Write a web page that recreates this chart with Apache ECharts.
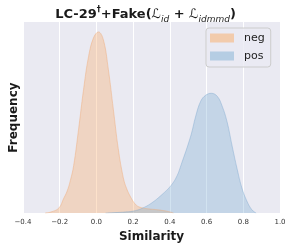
<!DOCTYPE html>
<html>
<head>
<meta charset="utf-8">
<script src="https://cdn.jsdelivr.net/npm/echarts@6/dist/echarts.min.js"></script>
<style>html,body{margin:0;padding:0;background:#fff}#c{width:291px;height:248px}</style>
</head>
<body>
<div id="c"></div>
<script>
// Data (KDE curves, density units)
const negX = [-0.28, -0.25, -0.205, -0.178, -0.160, -0.142, -0.124, -0.097, -0.070, -0.043, -0.016, 0.011, 0.038, 0.065, 0.092, 0.119, 0.146, 0.164, 0.190, 0.217, 0.245, 0.281, 0.335, 0.389, 0.42];
const negY = [0, 0.025, 0.125, 0.375, 0.55, 0.825, 1.2, 2.125, 3.125, 3.95, 4.425, 4.575, 4.375, 3.625, 2.625, 1.625, 0.9, 0.625, 0.375, 0.2, 0.1375, 0.1075, 0.0825, 0.0425, 0];
const posX = [0.05, 0.10, 0.15, 0.20, 0.245, 0.299, 0.353, 0.407, 0.44, 0.46, 0.514, 0.541, 0.568, 0.595, 0.626, 0.658, 0.685, 0.712, 0.739, 0.766, 0.793, 0.820, 0.847, 0.87];
const posY = [0, 0.0125, 0.025, 0.05, 0.1125, 0.25, 0.45, 0.7, 0.95, 1.2, 1.95, 2.45, 2.825, 2.975, 3.025, 2.95, 2.7, 2.3, 1.7, 1.125, 0.625, 0.3, 0.0825, 0];
const seriesNames = ['neg', 'pos'];
const xTicks = [-0.4, -0.2, 0.0, 0.2, 0.4, 0.6, 0.8, 1.0];

const chart = echarts.init(document.getElementById('c'));
const FONT = 'DejaVu Sans';
const pairs = (xs, ys) => xs.map((x, i) => [x, ys[i]]);

chart.setOption({
  animation: false,
  backgroundColor: '#ffffff',
  title: {
    text: '{b|LC-29}{sup|†}{b|+Fake(}{L|ℒ}{sub|id}{b| + }{L|ℒ}{sub|idmmd}{b|)}',
    left: 'center',
    top: 1,
    textStyle: {
      fontFamily: FONT,
      rich: {
        b: {fontFamily: FONT, fontWeight: 'bold', fontSize: 13, color: '#1a1a1a', lineHeight: 16},
        L: {fontFamily: FONT, fontStyle: 'italic', fontWeight: 'normal', fontSize: 13, color: '#1a1a1a', lineHeight: 16},
        sup: {fontFamily: FONT, fontWeight: 'bold', fontSize: 8, color: '#1a1a1a', verticalAlign: 'top', lineHeight: 16},
        sub: {fontFamily: FONT, fontStyle: 'italic', fontWeight: 'normal', fontSize: 9, color: '#1a1a1a', verticalAlign: 'bottom', lineHeight: 18}
      }
    }
  },
  legend: {
    orient: 'vertical',
    left: 206,
    top: 28,
    data: seriesNames,
    icon: 'rect',
    itemWidth: 24,
    itemHeight: 9,
    itemGap: 4,
    padding: [3, 6, 4, 4],
    backgroundColor: 'rgba(234,234,242,0.8)',
    borderColor: '#cccccc',
    borderWidth: 1,
    borderRadius: 3,
    textStyle: {fontFamily: FONT, fontSize: 11, color: '#222', lineHeight: 14, padding: [0, 0, 0, 5]}
  },
  grid: {left: 20.5, right: 11, top: 22, bottom: 33, show: true, backgroundColor: '#eaeaf2', borderWidth: 0},
  xAxis: {
    type: 'value', min: -0.4, max: 1.0, interval: 0.2,
    name: 'Similarity', nameLocation: 'middle', nameGap: 14,
    nameTextStyle: {fontFamily: FONT, fontWeight: 'bold', fontSize: 12, color: '#1a1a1a'},
    axisLine: {show: false}, axisTick: {show: false},
    axisLabel: {
      fontFamily: FONT, fontSize: 7, color: '#333', margin: 6,
      formatter: v => {
        const t = xTicks.find(k => Math.abs(k - v) < 1e-6);
        const val = t === undefined ? v : t;
        return (val < 0 ? '\u2212' : '') + Math.abs(val).toFixed(1);
      }
    },
    splitLine: {show: true, lineStyle: {color: '#ffffff', width: 1}}
  },
  yAxis: {
    type: 'value', min: 0, max: 4.825,
    name: 'Frequency', nameLocation: 'middle', nameGap: 3,
    nameTextStyle: {fontFamily: FONT, fontWeight: 'bold', fontSize: 12, color: '#1a1a1a'},
    axisLine: {show: false}, axisTick: {show: false}, axisLabel: {show: false},
    splitLine: {show: false}
  },
  series: [
    {
      name: 'neg', type: 'line', data: pairs(negX, negY), smooth: 0.4, showSymbol: false,
      lineStyle: {color: 'rgba(240,170,120,0.45)', width: 1},
      itemStyle: {color: '#f2cbac'},
      areaStyle: {color: 'rgba(250,174,108,0.5)'}
    },
    {
      name: 'pos', type: 'line', data: pairs(posX, posY), smooth: 0.4, showSymbol: false,
      lineStyle: {color: 'rgba(120,165,205,0.4)', width: 1},
      itemStyle: {color: '#b5cde3'},
      areaStyle: {color: 'rgba(128,176,212,0.5)'}
    }
  ]
});
</script>
</body>
</html>
